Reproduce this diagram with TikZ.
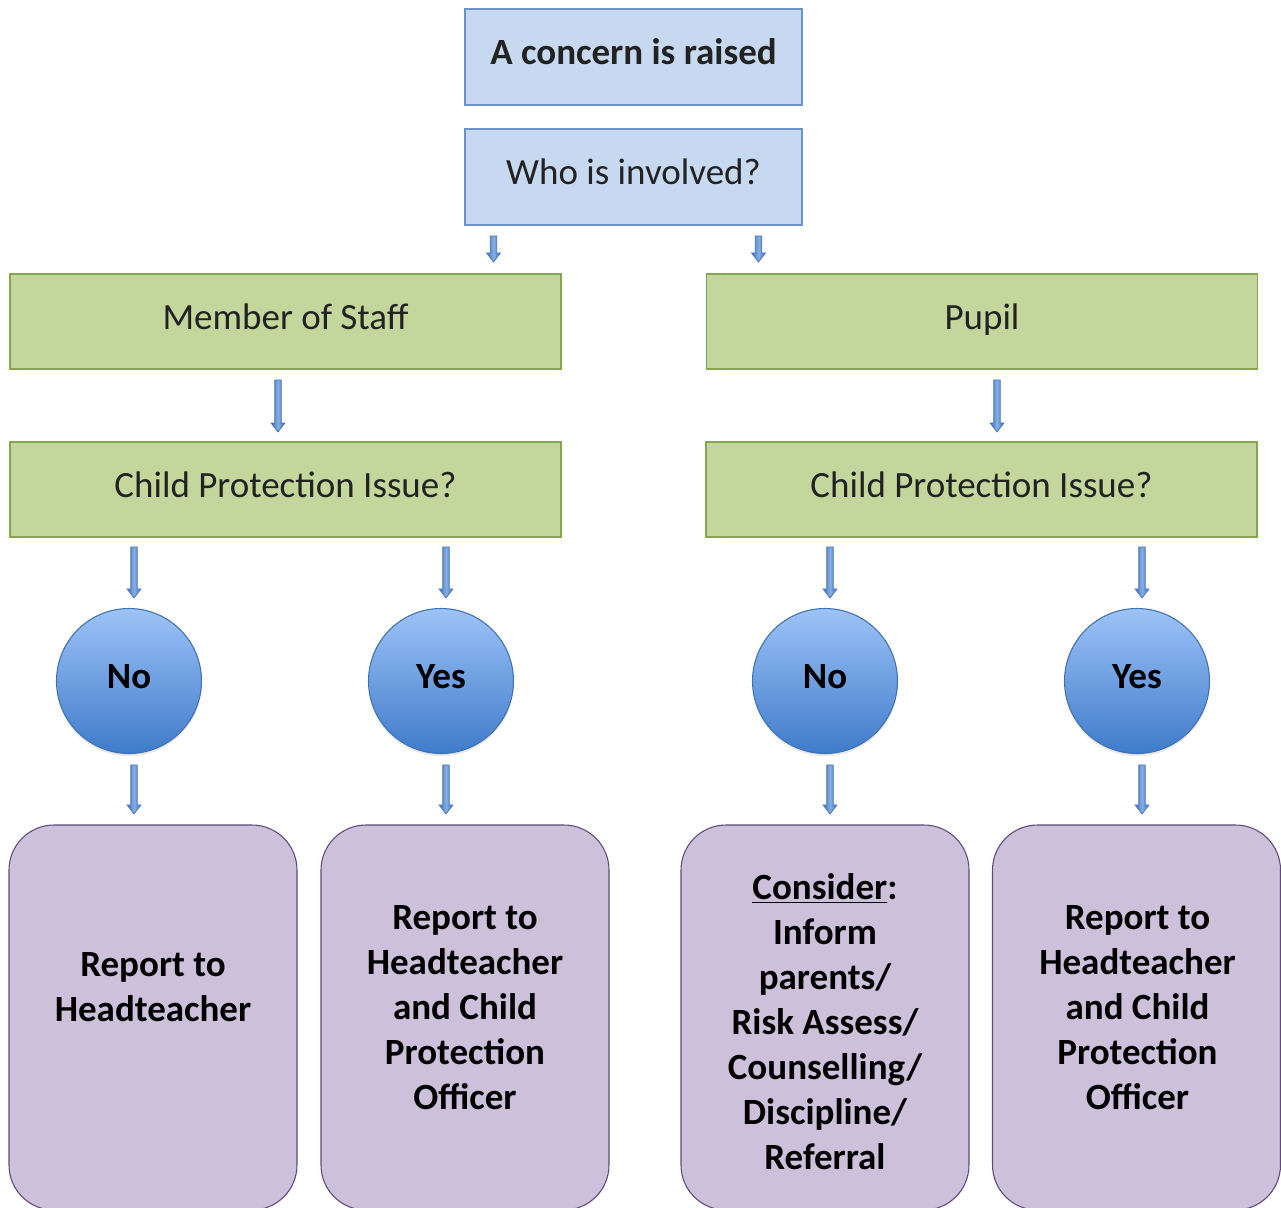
\documentclass[tikz,border=0pt]{standalone}
\usepackage{fontspec}
\setmainfont{Carlito}
\usetikzlibrary{calc,shadows}
\definecolor{bluefill}{HTML}{C6D9F1}
\definecolor{blueline}{HTML}{6C92C8}
\definecolor{greenfill}{HTML}{C3D69B}
\definecolor{greenline}{HTML}{86A54E}
\definecolor{purplefill}{HTML}{CCC0DA}
\definecolor{purpleline}{HTML}{5F497A}
\definecolor{circtop}{HTML}{9DC3F7}
\definecolor{circbot}{HTML}{3F7BCA}
\definecolor{circline}{HTML}{3E72B8}
\definecolor{arrline}{HTML}{3F70B5}
\definecolor{arrmid}{HTML}{86AEE4}
\definecolor{arrside}{HTML}{3E70B8}
\definecolor{txt}{HTML}{222222}
\begin{document}
\begin{tikzpicture}[x=0.75pt,y=-0.75pt,
  every node/.style={font=\fontsize{27.75}{33.75}\selectfont, align=center, inner sep=0pt},
  onetext/.style={text height=19.4pt, text depth=7.8pt},
  bluebox/.style={rectangle, onetext, draw=blueline, line width=1.1pt, fill=bluefill, minimum width=252.75pt, minimum height=72pt, text=txt},
  greenbox/.style={rectangle, onetext, draw=greenline, line width=1.1pt, fill=greenfill, minimum width=413.25pt, minimum height=71.25pt, text=txt},
  decision/.style={circle, onetext, draw=circline, line width=0.8pt, top color=circtop, bottom color=circbot, minimum size=108.75pt, font=\fontsize{27.75}{33.75}\selectfont\bfseries, text=black, drop shadow={opacity=0.18, shadow xshift=0pt, shadow yshift=-2pt}},
  outcome/.style={rectangle, rounded corners=33.75pt, draw=purpleline, line width=0.8pt, fill=purplefill, minimum width=216pt, minimum height=288.75pt},
  outtext/.style={font=\fontsize{27.75}{33.75}\selectfont\bfseries, text=black},
  blockarr/.style={draw=arrline, line width=0.5pt, left color=arrside, right color=arrside, middle color=arrmid, shading angle=90,
    to path={let \p1=(\tikztostart), \p2=(\tikztotarget) in
      (\x1-2.4pt,\y1) -- (\x1+2.4pt,\y1) -- (\x1+2.4pt,\y2+6.75pt) -- (\x1+5.2pt,\y2+6.75pt) -- (\x2,\y2) -- (\x1-5.2pt,\y2+6.75pt) -- (\x1-2.4pt,\y2+6.75pt) -- cycle}}
]
\useasboundingbox (0,0) rectangle (1281,1207);
\clip (0,0) rectangle (1281,1207);
\fill[white] (0,0) rectangle (1281,1207);

% top boxes
\node[bluebox, font=\fontsize{27.75}{33.75}\selectfont\bfseries] (concern) at (633.5,57) {A concern is raised};
\node[bluebox] (who) at (633.5,177) {Who is involved?};

% green boxes
\node[greenbox] (staff) at (285.5,321.5) {Member of Staff};
\node[greenbox] (pupil) at (982,321.5) {Pupil};
\node[greenbox] (cpl) at (285.5,489.5) {Child Protection Issue?};
\node[greenbox] (cpr) at (981.5,489.5) {Child Protection Issue?};

% circles
\node[decision] (no1) at (129,681) {No};
\node[decision] (yes1) at (441,681) {Yes};
\node[decision] (no2) at (825,681) {No};
\node[decision] (yes2) at (1137,681) {Yes};

% outcome boxes
\node[outcome] (o1) at (153,1017.5) {};
\node[outcome] (o2) at (465,1017.5) {};
\node[outcome] (o3) at (825,1017.5) {};
\node[outcome] (o4) at (1136.5,1017.5) {};

\node[outtext] (t1) at (153,987.5) {Report to\\Headteacher};
\node[outtext] (t2) at (465,1007.5) {Report to\\Headteacher\\and Child\\Protection\\Officer};
\node[outtext] (t3) at (825,1022) {\underline{Consider}:\\Inform\\parents/\\Risk Assess/\\Counselling/\\Discipline/\\Referral};
\node[outtext] (t4) at (1137.5,1007.5) {Report to\\Headteacher\\and Child\\Protection\\Officer};

% arrow endpoints
\coordinate (a1s) at (493.5,236); \coordinate (a1e) at (493.5,262);
\coordinate (a2s) at (758.5,236); \coordinate (a2e) at (758.5,262);
\coordinate (a3s) at (278,380); \coordinate (a3e) at (278,432);
\coordinate (a4s) at (997,380); \coordinate (a4e) at (997,432);
\coordinate (a5s) at (134,547); \coordinate (a5e) at (134,598);
\coordinate (a6s) at (446,547); \coordinate (a6e) at (446,598);
\coordinate (a7s) at (830,547); \coordinate (a7e) at (830,598);
\coordinate (a8s) at (1142,547); \coordinate (a8e) at (1142,598);
\coordinate (b5s) at (134,765); \coordinate (b5e) at (134,814);
\coordinate (b6s) at (446,765); \coordinate (b6e) at (446,814);
\coordinate (b7s) at (830,765); \coordinate (b7e) at (830,814);
\coordinate (b8s) at (1142,765); \coordinate (b8e) at (1142,814);

\path[blockarr] (a1s) to (a1e);
\path[blockarr] (a2s) to (a2e);
\path[blockarr] (a3s) to (a3e);
\path[blockarr] (a4s) to (a4e);
\path[blockarr] (a5s) to (a5e);
\path[blockarr] (a6s) to (a6e);
\path[blockarr] (a7s) to (a7e);
\path[blockarr] (a8s) to (a8e);
\path[blockarr] (b5s) to (b5e);
\path[blockarr] (b6s) to (b6e);
\path[blockarr] (b7s) to (b7e);
\path[blockarr] (b8s) to (b8e);
\end{tikzpicture}
\end{document}
